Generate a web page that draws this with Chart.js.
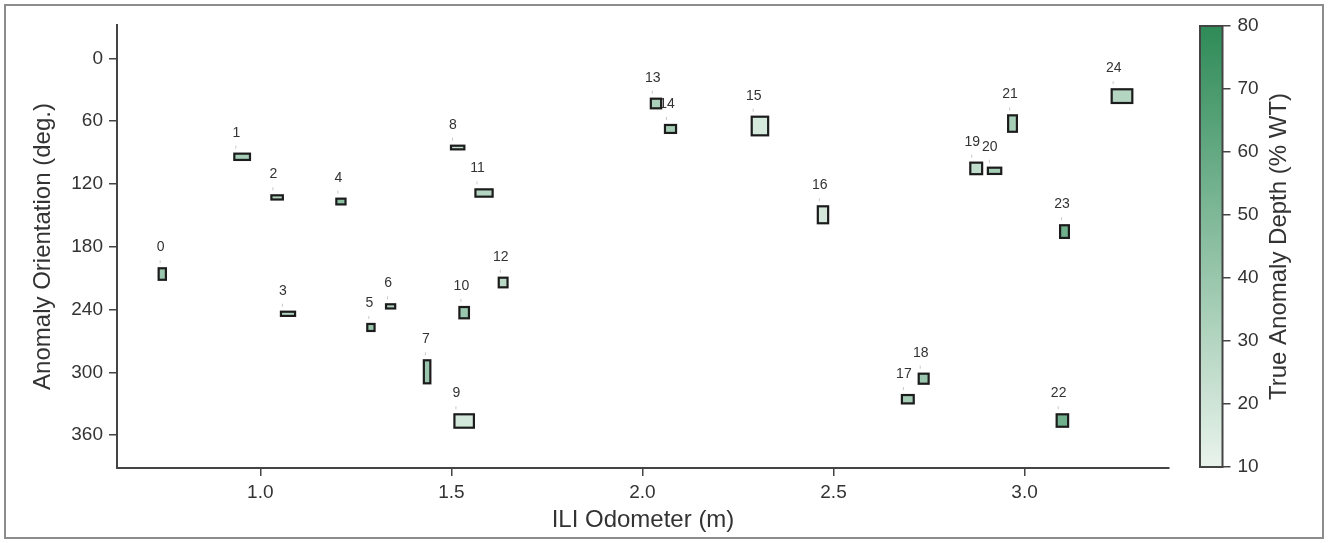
<!DOCTYPE html>
<html><head><meta charset="utf-8">
<script src="https://cdn.jsdelivr.net/npm/chart.js@4/dist/chart.umd.min.js"></script>
<style>
html,body{margin:0;padding:0;background:#fff;}
#wrap{position:relative;width:1328px;height:543px;overflow:hidden;}
#main{position:absolute;left:0;top:0;}
#cbar{position:absolute;left:1180px;top:0;}
#frame{position:absolute;left:4px;top:4px;width:1316px;height:531px;border:2px solid #8c8c8c;pointer-events:none;}
</style></head><body>
<div id="wrap">
<canvas id="main" width="1328" height="543"></canvas>
<canvas id="cbar" width="148" height="543"></canvas>
<div id="frame"></div>
</div>
<script>
// ---- data ----
const anomalyIds  = [0,1,2,3,4,5,6,7,8,9,10,11,12,13,14,15,16,17,18,19,20,21,22,23,24];
const odoStart    = [0.734,0.932,1.029,1.054,1.199,1.280,1.329,1.428,1.499,1.508,1.521,1.563,1.624,2.022,2.059,2.286,2.459,2.679,2.723,2.858,2.904,2.957,3.084,3.093,3.228];
const odoLength   = [0.019,0.041,0.030,0.037,0.024,0.019,0.024,0.017,0.035,0.051,0.025,0.045,0.023,0.027,0.029,0.043,0.027,0.031,0.026,0.031,0.035,0.023,0.030,0.023,0.054];
const orientStart = [200.6,91.1,130.9,242.1,134.1,253.8,235.0,288.5,83.5,340.1,237.6,125.2,209.6,38.6,63.7,55.8,141.4,321.7,301.3,99.7,104.5,54.5,340.1,159.5,29.6];
const orientWidth = [11.0,6.0,4.0,4.0,5.5,6.7,4.0,22.0,3.5,12.8,10.8,7.0,9.2,9.2,7.6,17.8,16.2,8.0,9.6,11.0,6.0,15.7,11.9,12.1,13.1];
const depthPct    = [40,35,30,30,45,40,30,40,25,18,40,30,28,33,35,17,18,35,40,25,35,35,55,55,30];
const xTicks = [1.0,1.5,2.0,2.5,3.0];
const yTicks = [0,60,120,180,240,300,360];
const cbarTicks = [10,20,30,40,50,60,70,80];
const depthMin = 10, depthMax = 80;

// ---- styling ----
const FONT = '"Liberation Sans", Arial, sans-serif';
const TXT = '#333333';
const AX = '#444444';
const cLow = [233,243,236], cHigh = [46,139,87];
function depthColor(d){
  const t = Math.max(0, Math.min(1, (d - depthMin) / (depthMax - depthMin)));
  const c = cLow.map((v,k)=>Math.round(v + (cHigh[k]-v)*t));
  return `rgb(${c[0]},${c[1]},${c[2]})`;
}

const rectPlugin = {
  id:'anomalyRects',
  afterDatasetsDraw(chart){
    const {ctx, scales:{x, y}} = chart;
    ctx.save();
    // labels first (rectangles are drawn on top of them)
    ctx.font = `14px ${FONT}`;
    ctx.fillStyle = TXT;
    ctx.textAlign = 'center';
    ctx.textBaseline = 'middle';
    anomalyIds.forEach((id,i)=>{
      const px = x.getPixelForValue(odoStart[i]);
      const py = y.getPixelForValue(orientStart[i]);
      ctx.fillText(String(id), px + 2, py - 21);
      ctx.strokeStyle = '#c8c8c8';
      ctx.lineWidth = 1;
      ctx.beginPath();
      ctx.moveTo(px + 1.5, py - 8);
      ctx.lineTo(px + 1.5, py - 5);
      ctx.stroke();
    });
    anomalyIds.forEach((id,i)=>{
      const x0 = x.getPixelForValue(odoStart[i]);
      const x1 = x.getPixelForValue(odoStart[i] + odoLength[i]);
      const y0 = y.getPixelForValue(orientStart[i]);
      const y1 = y.getPixelForValue(orientStart[i] + orientWidth[i]);
      const l = Math.min(x0,x1), t = Math.min(y0,y1), w = Math.abs(x1-x0), h = Math.abs(y1-y0);
      ctx.fillStyle = depthColor(depthPct[i]);
      ctx.fillRect(l, t, w, h);
      ctx.strokeStyle = '#1c1c1c';
      ctx.lineWidth = 2.2;
      ctx.strokeRect(l, t, w, h);
    });
    ctx.restore();
  }
};

new Chart(document.getElementById('main'), {
  type:'scatter',
  data:{datasets:[{data: odoStart.map((v,i)=>({x:v, y:orientStart[i]})), pointRadius:0, showLine:false}]},
  options:{
    responsive:false, animation:false, devicePixelRatio:1,
    layout:{padding:{left:5, right:159, top:25, bottom:5}},
    plugins:{legend:{display:false}, tooltip:{enabled:false}},
    scales:{
      x:{
        type:'linear', min:0.625, max:3.378,
        afterBuildTicks:s=>{ s.ticks = xTicks.map(v=>({value:v})); },
        afterFit:s=>{ s.height = 70; },
        ticks:{callback:v=>Number(v).toFixed(1), font:{family:FONT, size:19}, color:TXT, padding:5, maxRotation:0, autoSkip:false},
        grid:{display:true, drawOnChartArea:false, drawTicks:true, tickLength:8, color:AX, lineWidth:1.5},
        border:{display:true, color:AX, width:2},
        title:{display:true, text:'ILI Odometer (m)', font:{family:FONT, size:24}, color:TXT, padding:{top:0, bottom:3}}
      },
      y:{
        type:'linear', reverse:true, min:-31.8, max:391.4,
        afterBuildTicks:s=>{ s.ticks = yTicks.map(v=>({value:v})); },
        afterFit:s=>{ s.width = 112; },
        ticks:{callback:v=>String(v), font:{family:FONT, size:19}, color:TXT, padding:6, autoSkip:false},
        grid:{display:true, drawOnChartArea:false, drawTicks:true, tickLength:8, color:AX, lineWidth:1.5},
        border:{display:true, color:AX, width:2},
        title:{display:true, text:'Anomaly Orientation (deg.)', font:{family:FONT, size:24}, color:TXT, padding:{top:24, bottom:0}}
      }
    }
  },
  plugins:[rectPlugin]
});

const cbarPlugin = {
  id:'cbarFill',
  beforeDatasetsDraw(chart){
    const {ctx, chartArea:a, scales:{y}} = chart;
    const yb = y.getPixelForValue(depthMin), yt = y.getPixelForValue(depthMax);
    const g = ctx.createLinearGradient(0, yb, 0, yt);
    for (let k=0;k<=10;k++){ g.addColorStop(k/10, depthColor(depthMin + (depthMax-depthMin)*k/10)); }
    ctx.save();
    ctx.fillStyle = g;
    ctx.fillRect(a.left, yt, a.right - a.left, yb - yt);
    ctx.strokeStyle = AX;
    ctx.lineWidth = 2;
    ctx.strokeRect(a.left, yt, a.right - a.left, yb - yt);
    // colorbar label (reads bottom to top)
    ctx.translate(99, (yt + yb)/2);
    ctx.rotate(-Math.PI/2);
    ctx.font = `24px ${FONT}`;
    ctx.fillStyle = TXT;
    ctx.textAlign = 'center';
    ctx.textBaseline = 'middle';
    ctx.fillText('True Anomaly Depth (% WT)', 0, 0);
    ctx.restore();
  }
};

new Chart(document.getElementById('cbar'), {
  type:'scatter',
  data:{datasets:[{data:[], pointRadius:0}]},
  options:{
    responsive:false, animation:false, devicePixelRatio:1,
    layout:{padding:{left:20, right:0, top:26, bottom:76}},
    plugins:{legend:{display:false}, tooltip:{enabled:false}},
    scales:{
      x:{display:false, min:0, max:1},
      y:{
        position:'right', min:depthMin, max:depthMax,
        afterBuildTicks:s=>{ s.ticks = cbarTicks.map(v=>({value:v})); },
        afterFit:s=>{ s.width = 105.5; },
        ticks:{callback:v=>String(v), font:{family:FONT, size:19}, color:TXT, padding:7, autoSkip:false},
        grid:{display:true, drawOnChartArea:false, drawTicks:true, tickLength:8, color:AX, lineWidth:1.5},
        border:{display:false}
      }
    }
  },
  plugins:[cbarPlugin]
});
</script>
</body></html>
